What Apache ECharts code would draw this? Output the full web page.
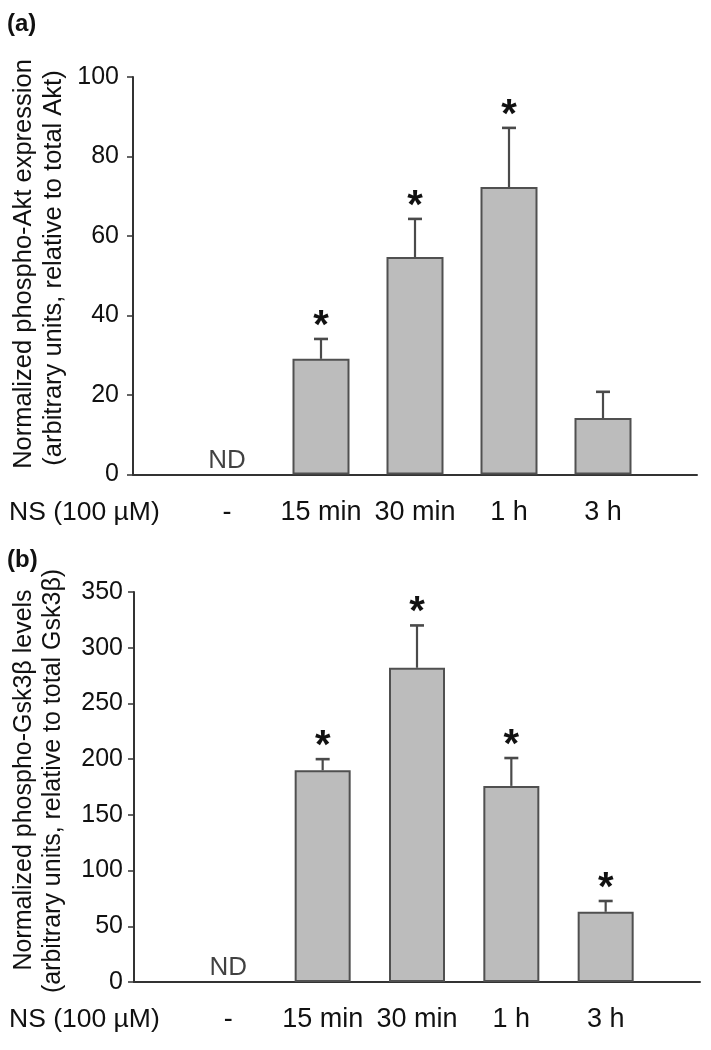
<!DOCTYPE html>
<html>
<head>
<meta charset="utf-8">
<script src="https://cdn.jsdelivr.net/npm/echarts@6/dist/echarts.min.js"></script>
<style>
html,body{margin:0;padding:0;background:#fff;}
#c{width:711px;height:1050px;}
</style>
</head>
<body>
<div id="c"></div>
<script>
// ---- data ----
const categories = ['', '-', '15 min', '30 min', '1 h', '3 h', ''];
const aMeans  = [null, null, 29.1, 54.7, 72.3, 14.2, null];
const aErrTop = [null, null, 34.1, 64.3, 87.2, 20.8, null];
const aStars  = [0, 0, 1, 1, 1, 0, 0];
const bMeans  = [null, null, 190, 282, 176, 63, null];
const bErrTop = [null, null, 200, 320, 201, 72.7, null];
const bStars  = [0, 0, 1, 1, 1, 1, 0];
const ndCategory = '-';
const aTicks = {min: 0, max: 100, interval: 20};
const bTicks = {min: 0, max: 350, interval: 50};
const xPrefixLabel = 'NS (100 µM)';
const aTitle = ['Normalized phospho-Akt expression', '(arbitrary units, relative to total Akt)'];
const bTitle = ['Normalized phospho-Gsk3β levels', '(arbitrary units, relative to total Gsk3β)'];

const FONT = '"Liberation Sans", Arial, Helvetica, sans-serif';
const AX = '#333';

function errData(means, tops, stars) {
  const out = [];
  means.forEach((m, i) => { if (m !== null) out.push([i, m, tops[i], stars[i]]); });
  return out;
}
function renderErr(params, api) {
  const x = api.value(0), m = api.value(1), t = api.value(2), s = api.value(3);
  const p0 = api.coord([x, m]);
  const p1 = api.coord([x, t]);
  const children = [
    {type: 'line', shape: {x1: p0[0], y1: p0[1], x2: p1[0], y2: p1[1]}, style: {stroke: '#4a4a4a', lineWidth: 2.2}},
    {type: 'line', shape: {x1: p1[0] - 7, y1: p1[1], x2: p1[0] + 7, y2: p1[1]}, style: {stroke: '#4a4a4a', lineWidth: 2.6}}
  ];
  if (s) {
    children.push({type: 'text', x: p1[0], y: p1[1] + 8,
      style: {text: '*', font: 'bold 40px ' + FONT, fill: '#111', textAlign: 'center', textVerticalAlign: 'bottom'}});
  }
  return {type: 'group', children: children};
}

function xAxisCfg(gi) {
  return {
    gridIndex: gi, type: 'category', data: categories, boundaryGap: false,
    axisLine: {lineStyle: {color: AX, width: 2}},
    axisTick: {show: false},
    axisLabel: {color: '#111', fontSize: 27, fontFamily: FONT, margin: gi === 0 ? 25 : 24, interval: 0},
    splitLine: {show: false}
  };
}
function yAxisCfg(gi, t) {
  return {
    gridIndex: gi, type: 'value', min: t.min, max: t.max, interval: t.interval,
    axisLine: {show: true, lineStyle: {color: AX, width: 2}},
    axisTick: {show: true, length: 6, lineStyle: {color: AX, width: 1.5}},
    axisLabel: {color: '#111', fontSize: 25, fontFamily: FONT, margin: gi === 0 ? 14 : 11},
    splitLine: {show: false}
  };
}
function barSeries(gi, means) {
  return {
    type: 'bar', xAxisIndex: gi, yAxisIndex: gi, data: means, barWidth: gi === 0 ? 57 : 56,
    itemStyle: {color: '#bcbcbc', borderColor: '#505050', borderWidth: 2},
    silent: true, z: 2
  };
}
function ndSeries(gi) {
  return {
    type: 'scatter', xAxisIndex: gi, yAxisIndex: gi, data: [[ndCategory, 0]], symbolSize: 0,
    label: {show: true, position: 'top', distance: 1, formatter: 'ND', fontSize: 26, fontFamily: FONT, color: '#111'},
    silent: true
  };
}

const chart = echarts.init(document.getElementById('c'), null, {renderer: 'canvas'});
chart.setOption({
  backgroundColor: '#fff',
  animation: false,
  grid: [
    {left: 133, right: 14, top: 77, height: 397.5},
    {left: 134, right: 11, top: 592, height: 390}
  ],
  xAxis: [xAxisCfg(0), xAxisCfg(1)],
  yAxis: [yAxisCfg(0, aTicks), yAxisCfg(1, bTicks)],
  series: [
    barSeries(0, aMeans),
    {type: 'custom', xAxisIndex: 0, yAxisIndex: 0, renderItem: renderErr, data: errData(aMeans, aErrTop, aStars), z: 3, silent: true},
    ndSeries(0),
    barSeries(1, bMeans),
    {type: 'custom', xAxisIndex: 1, yAxisIndex: 1, renderItem: renderErr, data: errData(bMeans, bErrTop, bStars), z: 3, silent: true},
    ndSeries(1)
  ],
  graphic: [
    {type: 'text', left: 7, top: 12, style: {text: '(a)', font: 'bold 24px ' + FONT, fill: '#111'}},
    {type: 'text', left: 7, top: 548, style: {text: '(b)', font: 'bold 24px ' + FONT, fill: '#111'}},
    {type: 'text', x: 24, y: 264, rotation: Math.PI / 2,
      style: {text: aTitle[0], font: '25.5px ' + FONT, fill: '#111', textAlign: 'center', textVerticalAlign: 'middle'}},
    {type: 'text', x: 54, y: 268, rotation: Math.PI / 2,
      style: {text: aTitle[1], font: '25.5px ' + FONT, fill: '#111', textAlign: 'center', textVerticalAlign: 'middle'}},
    {type: 'text', x: 24, y: 780, rotation: Math.PI / 2,
      style: {text: bTitle[0], font: '25px ' + FONT, fill: '#111', textAlign: 'center', textVerticalAlign: 'middle'}},
    {type: 'text', x: 53, y: 781, rotation: Math.PI / 2,
      style: {text: bTitle[1], font: '25px ' + FONT, fill: '#111', textAlign: 'center', textVerticalAlign: 'middle'}},
    {type: 'text', left: 9, top: 499, style: {text: xPrefixLabel, font: '26.5px ' + FONT, fill: '#111'}},
    {type: 'text', left: 9, top: 1006, style: {text: xPrefixLabel, font: '26.5px ' + FONT, fill: '#111'}}
  ]
});
</script>
</body>
</html>
